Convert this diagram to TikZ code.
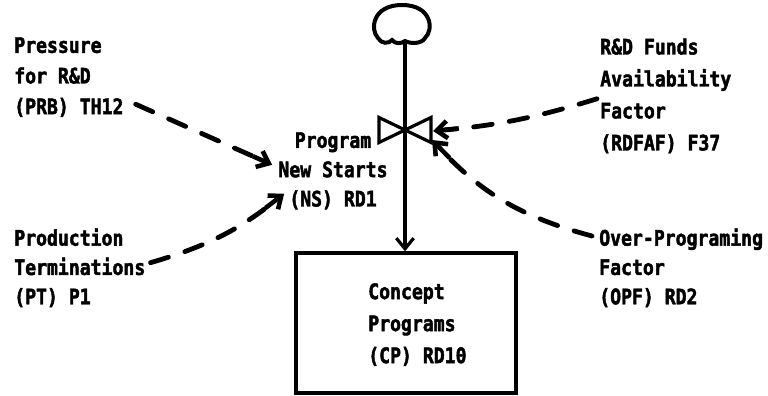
\documentclass[tikz,border=0pt]{standalone}
\usepackage{fontspec}
\setmainfont{DejaVu Sans Mono}[FakeStretch=0.85, BoldFeatures={FakeBold=2}]
\usetikzlibrary{arrows.meta}

\begin{document}
\begin{tikzpicture}[x=0.75pt, y=0.75pt,
    >={Straight Barb[length=8pt, width=13pt]},
    lbl/.style={font=\bfseries\fontsize{16}{#1}\selectfont, align=left, inner sep=0pt, anchor=north west},
    lbl/.default=24pt,
    info/.style={line width=3.6pt, line cap=round, dash pattern=on 14pt off 13pt, shorten >=9pt},
    tip/.style={->, line width=3.4pt},
    stock/.style={draw, line width=2.5pt, minimum width=165pt, minimum height=105pt, inner sep=0pt},
    flow/.style={->, line width=2.4pt}]
    \useasboundingbox (0,0) rectangle (768,396);

    \coordinate (valve) at (405,266);
    \coordinate (src) at (405,355);

    \node[stock] (cp) at (406,73) {};
    \node[lbl] (cptxt) at (368,113) {Concept\\Programs\\(CP) RD10};

    \node[lbl=23pt] (prb) at (14,359) {Pressure\\for R\&D\\(PRB) TH12};
    \node[lbl=22pt] (pt) at (14,168) {Production\\Terminations\\(PT) P1};
    \node[lbl=22pt, align=center, anchor=north] (ns) at (333,264) {Program\\New Starts\\(NS) RD1};
    \node[lbl] (rdfaf) at (600,358) {R\&D Funds\\Availability\\Factor\\(RDFAF) F37};
    \node[lbl=22pt] (opf) at (599,168) {Over-Programing\\Factor\\(OPF) RD2};

    % source cloud
    \draw[line width=3pt, shift={(402,371)}] (-24,-13) .. controls (-32,-5) and (-30,20) .. (0,20)
        .. controls (30,20) and (32,-5) .. (23,-13)
        .. controls (20,-19) and (8,-19) .. (3,-16)
        .. controls (-1,-19) and (-7,-19) .. (-10,-15)
        .. controls (-13,-19) and (-21,-19) .. (-24,-13) -- cycle;

    \draw[flow] (src) -- (src |- cp.north);
    \draw[line width=2.4pt, fill=white] ([shift={(-26,12.5)}]valve) -- ([shift={(26,-12.5)}]valve)
        -- ([shift={(26,12.5)}]valve) -- ([shift={(-26,-12.5)}]valve) -- cycle;
    \draw[line width=2.4pt] ([yshift=14]valve) -- ([yshift=-14]valve);

    % information links
    \coordinate (nsin1) at ([shift={(-6,6)}]ns.west);
    \coordinate (nsin2) at ([shift={(6,-23)}]ns.west);
    \coordinate (vin1) at ([shift={(28,-1)}]valve);
    \coordinate (vin2) at ([shift={(27,-10)}]valve);

    \draw[info] ([shift={(12,13)}]prb.south east) -- coordinate[pos=.86] (h1) (nsin1);
    \draw[tip] (h1) -- (nsin1);
    \draw[info] ([shift={(5,5)}]pt.east) to[bend right=11] coordinate[pos=.86] (h2) (nsin2);
    \draw[tip] (h2) -- (nsin2);
    \draw[info] ([shift={(-3,-3)}]rdfaf.west) to[bend left=6] coordinate[pos=.86] (h3) (vin1);
    \draw[tip] (h3) -- (vin1);
    \draw[info] ([shift={(-7,-8)}]opf.north west) to[bend left=16] coordinate[pos=.88] (h4) (vin2);
    \draw[tip] (h4) -- (vin2);
\end{tikzpicture}
\end{document}
